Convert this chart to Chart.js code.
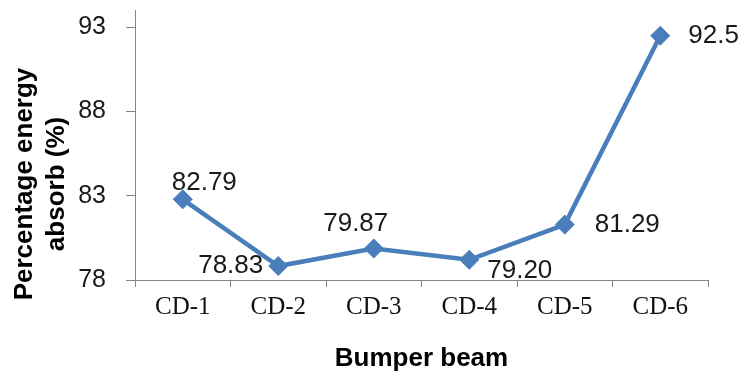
<!DOCTYPE html>
<html>
<head>
<meta charset="utf-8">
<script src="https://cdn.jsdelivr.net/npm/chart.js@4.4.0/dist/chart.umd.min.js"></script>
<style>
  html, body { margin: 0; padding: 0; background: #fff; }
  #wrap { width: 744px; height: 376px; }
</style>
</head>
<body>
<div id="wrap"><canvas id="chart" width="744" height="376"></canvas></div>
<script>
// -------------------------------------------------------------
// Data
// -------------------------------------------------------------
const categories = ['CD-1', 'CD-2', 'CD-3', 'CD-4', 'CD-5', 'CD-6']
const energyAbsorb = [82.79, 78.83, 79.87, 79.20, 81.29, 92.5]
const valueLabels = ['82.79', '78.83', '79.87', '79.20', '81.29', '92.5']
const yTicks = [78, 83, 88, 93]
const yTitleLines = ['Percentage energy', 'absorb (%)']
const xTitle = 'Bumper beam'

const AXIS_GREY = '#868686'
const LINE_BLUE = '#4A7EBB'
const SANS = '"Liberation Sans", Arial, sans-serif'
const SERIF = '"Liberation Serif", "Times New Roman", serif'

// where each value label sits relative to its marker
const labelPlacement = [
  { align: 'left', dx: -11, dy: -16 },
  { align: 'right', dx: -15, dy: 0 },
  { align: 'center', dx: -18, dy: -25 },
  { align: 'left', dx: 18, dy: 11 },
  { align: 'left', dx: 30, dy: 0 },
  { align: 'left', dx: 28, dy: 0 }
]

// value labels next to the markers
const valueLabelPlugin = {
  id: 'valueLabels',
  afterDatasetsDraw(chart) {
    const { ctx } = chart
    const meta = chart.getDatasetMeta(0)
    ctx.save()
    ctx.font = '26px ' + SANS
    ctx.fillStyle = '#1a1a1a'
    ctx.textBaseline = 'middle'
    meta.data.forEach((pt, i) => {
      const p = labelPlacement[i]
      ctx.textAlign = p.align
      ctx.fillText(valueLabels[i], pt.x + p.dx, pt.y + p.dy)
    })
    ctx.restore()
  }
}

// two-line rotated y title, sitting a little below the axis middle
const yTitlePlugin = {
  id: 'yTitle',
  afterDraw(chart) {
    const { ctx } = chart
    ctx.save()
    ctx.font = 'bold 26px ' + SANS
    ctx.fillStyle = '#000'
    ctx.textAlign = 'center'
    ctx.textBaseline = 'middle'
    const xs = [25, 57]
    yTitleLines.forEach((line, i) => {
      ctx.save()
      ctx.translate(xs[i], 184)
      ctx.rotate(-Math.PI / 2)
      ctx.fillText(line, 0, 0)
      ctx.restore()
    })
    ctx.restore()
  }
}

new Chart(document.getElementById('chart'), {
  type: 'line',
  data: {
    labels: categories,
    datasets: [{
      data: energyAbsorb,
      borderColor: LINE_BLUE,
      backgroundColor: LINE_BLUE,
      borderWidth: 4.5,
      pointStyle: 'rectRot',
      pointRadius: 9.5,
      pointBorderWidth: 1,
      pointBorderColor: LINE_BLUE,
      pointBackgroundColor: LINE_BLUE,
      tension: 0,
      clip: false
    }]
  },
  options: {
    responsive: false,
    animation: false,
    devicePixelRatio: 1,
    layout: { padding: { top: 10, right: 36, left: 0, bottom: 0 } },
    plugins: { legend: { display: false }, tooltip: { enabled: false } },
    scales: {
      x: {
        type: 'category',
        offset: true,
        grid: { offset: true, drawOnChartArea: false, drawTicks: true, tickLength: 7, color: AXIS_GREY },
        border: { color: AXIS_GREY, width: 1 },
        ticks: { color: '#111', font: { family: SERIF, size: 25 }, padding: 5, maxRotation: 0 },
        title: { display: true, text: xTitle, color: '#000', font: { family: SANS, size: 26, weight: 'bold' }, padding: { top: 4, bottom: 2 } },
        afterFit: s => { s.height = 96 }
      },
      y: {
        // axis line runs a little past the top tick, as in the original
        min: yTicks[0],
        max: yTicks[yTicks.length - 1] + 1,
        afterBuildTicks: s => { s.ticks = yTicks.map(v => ({ value: v })) },
        grid: { drawOnChartArea: false, drawTicks: true, tickLength: 9, color: AXIS_GREY },
        border: { color: AXIS_GREY, width: 1 },
        ticks: { color: '#1a1a1a', font: { family: SANS, size: 25 }, padding: 20 },
        afterFit: s => { s.width = 135; s.paddingTop = 0; s.paddingBottom = 0 }
      }
    }
  },
  plugins: [valueLabelPlugin, yTitlePlugin]
})
</script>
</body>
</html>
